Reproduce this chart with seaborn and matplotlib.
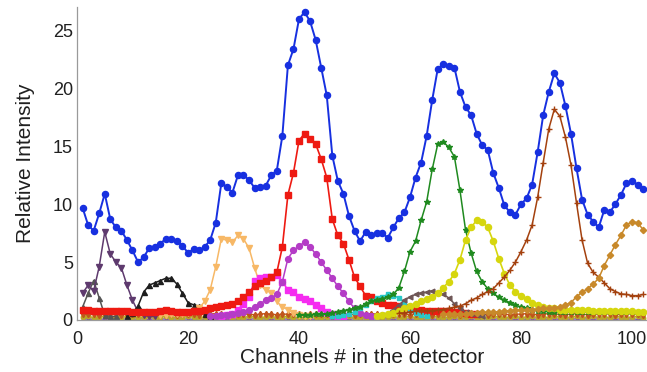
import matplotlib
matplotlib.use("Agg")
import matplotlib.pyplot as plt
import pandas as pd
import seaborn as sns

# ---------------------------------------------------------------- data
# Summed detector response, channels 1..102
total = [9.7, 8.2, 7.7, 9.2, 10.9, 8.7, 8.0, 7.7, 6.9, 6.0,
         5.0, 5.4, 6.2, 6.3, 6.6, 7.0, 7.0, 6.8, 6.4, 5.8,
         6.1, 6.0, 6.3, 6.9, 8.4, 11.8, 11.5, 11.0, 12.5, 12.5,
         12.1, 11.4, 11.5, 11.6, 12.5, 12.9, 15.9, 22.0, 23.4, 26.0,
         26.6, 25.8, 24.2, 21.8, 19.4, 14.2, 12.0, 10.9, 9.0, 7.7,
         6.8, 7.6, 7.3, 7.5, 7.5, 7.1, 8.0, 8.8, 9.3, 10.6,
         12.3, 13.6, 15.9, 19.0, 21.7, 22.1, 21.9, 21.8, 19.7, 18.4,
         17.7, 16.1, 15.1, 14.7, 12.7, 11.4, 9.9, 9.3, 9.1, 10.0,
         10.5, 11.7, 14.5, 17.7, 19.7, 21.3, 20.5, 18.5, 16.1, 13.1,
         10.4, 9.1, 8.5, 8.0, 9.5, 9.3, 10.0, 10.8, 11.8, 12.0,
         11.7, 11.3]

# Individual components: first channel + consecutive values
purple_start = 1
purple = [2.3, 3.0, 2.5, 4.6, 7.6, 5.7, 5.0, 4.5, 3.0, 1.7, 0.7, 0.4, 0.3, 0.3]

gray_start = 1
gray = [1.1, 2.3, 3.4, 1.9, 0.4, 0.3, 0.3]

black_start = 9
black = [0.3, 0.6, 1.2, 2.4, 3.0, 3.2, 3.4, 3.6, 3.6, 3.1, 2.3, 1.5, 1.3, 1.2, 0.5, 0.3]

orange_start = 15
orange = [0.4, 0.4, 0.5, 0.5, 0.5, 0.6, 0.8, 1.0, 1.6, 2.6,
          4.6, 7.0, 6.9, 6.7, 7.3, 7.0, 6.2, 4.5, 3.0, 2.6,
          2.3, 1.6, 1.1, 0.9, 0.6, 0.4, 0.3, 0.3]

magenta_start = 26
magenta = [0.3, 0.4, 0.5, 0.9, 1.4, 2.0, 3.4, 3.6, 3.7, 3.7,
           3.9, 3.3, 2.6, 2.4, 2.0, 1.8, 1.6, 1.3, 1.0, 0.7,
           0.5, 0.3, 0.3]

red_start = 1
red = [0.9, 0.9, 0.8, 0.8, 0.8, 0.8, 0.8, 0.8, 0.8, 0.7,
       0.7, 0.7, 0.7, 0.7, 0.8, 0.9, 0.8, 0.7, 0.7, 0.7,
       0.8, 0.8, 0.9, 1.0, 1.1, 1.2, 1.3, 1.4, 1.6, 2.0,
       2.4, 2.9, 3.2, 3.4, 3.7, 4.1, 6.3, 10.8, 12.7, 15.5,
       16.1, 15.6, 15.2, 13.9, 12.3, 8.7, 7.3, 6.6, 5.2, 3.7,
       2.9, 2.1, 2.0, 1.6, 1.5, 1.3, 1.3, 1.2, 1.1, 1.0,
       0.9, 0.9, 0.8, 0.8, 0.8, 0.8, 0.8, 0.7, 0.7, 0.6,
       0.5, 0.5]

violet_start = 24
violet = [0.3, 0.3, 0.4, 0.4, 0.5, 0.6, 0.7, 0.9, 1.1, 1.4,
          1.7, 1.9, 2.2, 3.3, 5.3, 6.0, 6.4, 6.7, 6.3, 5.7,
          5.0, 4.3, 3.6, 2.9, 2.3, 1.6, 1.0, 0.6, 0.4, 0.3]

cyan_start = 46
cyan = [0.3, 0.3, 0.4, 0.5, 0.7, 1.0, 1.3, 1.6, 1.9, 2.0,
        2.2, 2.1, 1.9, 1.5, 0.9, 0.6, 0.4, 0.3]

green_start = 40
green = [0.4, 0.4, 0.4, 0.5, 0.5, 0.5, 0.6, 0.7, 0.8, 0.9,
         1.0, 1.1, 1.4, 1.6, 1.7, 1.8, 2.0, 2.2, 2.8, 4.2,
         5.9, 6.8, 8.6, 10.2, 13.0, 15.2, 15.4, 14.9, 14.1, 11.2,
         7.8, 5.8, 4.2, 3.3, 2.7, 2.3, 1.95, 1.7, 1.5, 1.3,
         1.1, 1.0, 0.9, 0.8, 0.8, 0.7, 0.7, 0.7, 0.7, 0.7,
         0.7, 0.7, 0.7, 0.7, 0.7, 0.7, 0.7, 0.7, 0.7, 0.7,
         0.7, 0.7, 0.7]

taupe_start = 54
taupe = [0.3, 0.4, 0.6, 0.9, 1.3, 1.7, 2.0, 2.2, 2.3, 2.4,
         2.5, 2.4, 2.2, 1.9, 1.4, 1.0, 0.7, 0.5, 0.4, 0.3]

yellow_start = 54
yellow = [0.3, 0.4, 0.5, 0.6, 0.8, 1.0, 1.2, 1.4, 1.6, 1.8,
          2.0, 2.3, 2.8, 3.3, 4.0, 5.2, 6.9, 8.0, 8.6, 8.5,
          8.0, 6.8, 5.3, 4.0, 3.0, 2.45, 2.1, 1.8, 1.5, 1.3,
          1.1, 1.0, 1.0, 0.9, 0.9, 0.9, 0.9, 0.85, 0.85, 0.8,
          0.8, 0.8, 0.8, 0.8, 0.75, 0.75, 0.75, 0.7, 0.7]

brown_start = 58
brown = [0.6, 0.6, 0.7, 0.75, 0.8, 0.8, 0.8, 0.85, 0.9, 1.0,
         1.1, 1.2, 1.4, 1.7, 1.9, 2.2, 2.45, 2.7, 3.2, 3.7,
         4.3, 5.0, 5.9, 6.9, 8.2, 10.6, 13.6, 16.5, 18.2, 17.6,
         15.8, 13.4, 10.1, 6.9, 4.9, 4.1, 3.7, 3.2, 2.7, 2.45,
         2.25, 2.2, 2.1, 2.1, 2.2]

gold_start = 66
gold = [0.5, 0.5, 0.5, 0.5, 0.55, 0.6, 0.6, 0.65, 0.65, 0.7,
        0.7, 0.75, 0.8, 0.85, 0.85, 0.9, 0.9, 0.95, 1.0, 1.0,
        1.05, 1.15, 1.3, 1.5, 2.0, 2.4, 2.7, 3.1, 3.6, 4.7,
        5.6, 6.5, 7.3, 8.2, 8.5, 8.4, 7.8]

# Low-level channels lying along the floor of the plot (channels 1..102)
floor_olive = [0.25, 0.3, 0.2, 0.25, 0.3, 0.2, 0.25, 0.2, 0.3, 0.25,
               0.2, 0.25, 0.3, 0.2, 0.25, 0.3, 0.2, 0.25, 0.2, 0.3,
               0.25, 0.2, 0.25, 0.3, 0.2, 0.25, 0.3, 0.2, 0.25, 0.2,
               0.3, 0.25, 0.2, 0.25, 0.3, 0.2, 0.25, 0.3, 0.2, 0.25,
               0.2, 0.3, 0.25, 0.2, 0.25, 0.3, 0.2, 0.25, 0.3, 0.2,
               0.25, 0.2, 0.3, 0.25, 0.2, 0.25, 0.3, 0.2, 0.25, 0.3,
               0.2, 0.25, 0.2, 0.3, 0.25, 0.2, 0.25, 0.3, 0.2, 0.25,
               0.3, 0.2, 0.25, 0.2, 0.3, 0.25, 0.2, 0.25, 0.3, 0.2,
               0.25, 0.3, 0.2, 0.25, 0.2, 0.3, 0.25, 0.2, 0.25, 0.3,
               0.2, 0.25, 0.3, 0.2, 0.25, 0.2, 0.3, 0.25, 0.2, 0.25,
               0.3, 0.2]
floor_rust = [0.5, 0.55, 0.5, 0.45, 0.5, 0.55, 0.5, 0.45, 0.5, 0.5,
              0.55, 0.5, 0.45, 0.5, 0.55, 0.5, 0.5, 0.45, 0.5, 0.55,
              0.5, 0.45, 0.5, 0.5, 0.55, 0.5, 0.45, 0.5, 0.55, 0.5,
              0.5, 0.45, 0.5, 0.55, 0.5, 0.45, 0.5, 0.5, 0.55, 0.5,
              0.45, 0.5, 0.55, 0.5, 0.5, 0.45, 0.5, 0.55, 0.5, 0.45,
              0.5, 0.5, 0.55, 0.5, 0.45, 0.5, 0.55, 0.5, 0.5, 0.45,
              0.5, 0.55, 0.5, 0.45, 0.5, 0.5, 0.55, 0.5, 0.45, 0.5,
              0.55, 0.5, 0.5, 0.45, 0.5, 0.55, 0.5, 0.45, 0.5, 0.5,
              0.55, 0.5, 0.45, 0.5, 0.55, 0.5, 0.5, 0.45, 0.5, 0.55,
              0.5, 0.45, 0.5, 0.5, 0.55, 0.5, 0.45, 0.5, 0.55, 0.5,
              0.5, 0.45]
floor_indigo = [0.05, 0.1, 0.05, 0.1, 0.05, 0.1, 0.05, 0.1, 0.05, 0.1,
                0.05, 0.1, 0.05, 0.1, 0.05, 0.1, 0.05, 0.1, 0.05, 0.1,
                0.05, 0.1, 0.05, 0.1, 0.05, 0.1, 0.05, 0.1, 0.05, 0.1,
                0.05, 0.1, 0.05, 0.1, 0.05, 0.1, 0.05, 0.1, 0.05, 0.1,
                0.05, 0.1, 0.05, 0.1, 0.05, 0.1, 0.05, 0.1, 0.05, 0.1,
                0.05, 0.1, 0.05, 0.1, 0.05, 0.1, 0.05, 0.1, 0.05, 0.1,
                0.05, 0.1, 0.05, 0.1, 0.05, 0.1, 0.05, 0.1, 0.05, 0.1,
                0.05, 0.1, 0.05, 0.1, 0.05, 0.1, 0.05, 0.1, 0.05, 0.1,
                0.05, 0.1, 0.05, 0.1, 0.05, 0.1, 0.05, 0.1, 0.05, 0.1,
                0.05, 0.1, 0.05, 0.1, 0.05, 0.1, 0.05, 0.1, 0.05, 0.1,
                0.05, 0.1]

x_ticks = [0, 20, 40, 60, 80, 100]
y_ticks = [0, 5, 10, 15, 20, 25]

# ---------------------------------------------------------------- table
series = [
    ("floor_indigo", 1, floor_indigo),
    ("floor_olive", 1, floor_olive),
    ("floor_rust", 1, floor_rust),
    ("gray", gray_start, gray),
    ("purple", purple_start, purple),
    ("black", black_start, black),
    ("orange", orange_start, orange),
    ("magenta", magenta_start, magenta),
    ("red", red_start, red),
    ("violet", violet_start, violet),
    ("cyan", cyan_start, cyan),
    ("taupe", taupe_start, taupe),
    ("green", green_start, green),
    ("yellow", yellow_start, yellow),
    ("brown", brown_start, brown),
    ("gold", gold_start, gold),
    ("total", 1, total),
]
rows = []
for name, start, vals in series:
    for i, v in enumerate(vals):
        rows.append({"series": name, "channel": start + i, "intensity": v})
df = pd.DataFrame(rows)

styles = {
    "floor_indigo": dict(color="#7a3fb0", marker="^", ms=3.0, lw=1.0),
    "floor_olive": dict(color="#b9a626", marker="o", ms=3.2, lw=1.0),
    "floor_rust": dict(color="#c0561c", marker="d", ms=3.2, lw=1.0),
    "gray": dict(color="#555555", marker="^", ms=3.6, lw=1.1),
    "purple": dict(color="#5e3a6e", marker="v", ms=4.0, lw=1.1),
    "black": dict(color="#1e1e1e", marker="^", ms=3.6, lw=1.1),
    "orange": dict(color="#f7b866", marker="v", ms=4.0, lw=1.1),
    "magenta": dict(color="#f52cf0", marker="s", ms=3.8, lw=1.1),
    "red": dict(color="#ee1a12", marker="s", ms=4.0, lw=1.2),
    "violet": dict(color="#b43cc6", marker="o", ms=4.2, lw=1.1),
    "cyan": dict(color="#28c8c8", marker="s", ms=3.4, lw=1.1),
    "taupe": dict(color="#6e5656", marker="<", ms=3.4, lw=1.1),
    "green": dict(color="#1f8a1f", marker="*", ms=4.2, lw=1.1),
    "yellow": dict(color="#d6d60e", marker="o", ms=4.4, lw=1.2),
    "brown": dict(color="#a4410e", marker="+", ms=4.4, lw=1.1),
    "gold": dict(color="#c8892a", marker="D", ms=3.2, lw=1.1),
    "total": dict(color="#1730e0", marker="o", ms=4.4, lw=1.4),
}

# ---------------------------------------------------------------- figure
sns.set_theme(style="white")
plt.rcParams["font.family"] = ["Liberation Sans", "DejaVu Sans"]

fig = plt.figure(figsize=(6.47, 3.72), dpi=100)
ax = fig.add_axes([0.119, 0.140, 0.881, 0.840])

for name, _, _ in series:
    st = styles[name]
    sns.lineplot(
        data=df[df["series"] == name], x="channel", y="intensity",
        ax=ax, color=st["color"], marker=st["marker"], markersize=st["ms"],
        markeredgecolor=st["color"], markeredgewidth=1.0,
        linewidth=st["lw"], estimator=None, sort=False, legend=False,
    )

ax.set_xlim(0, 102.7)
ax.set_ylim(0, 27)
ax.set_xticks(x_ticks)
ax.set_yticks(y_ticks)
ax.tick_params(axis="both", direction="in", length=3, width=0.8,
               color="#8a8a8a", labelsize=13, labelcolor="#202020")
ax.tick_params(axis="x", pad=8)
ax.tick_params(axis="y", pad=3)

for side in ("top", "right"):
    ax.spines[side].set_visible(False)
for side in ("left", "bottom"):
    ax.spines[side].set_color("#9a9a9a")
    ax.spines[side].set_linewidth(0.9)

ax.set_xlabel("Channels # in the detector", fontsize=15, color="#202020", labelpad=0)
ax.set_ylabel("Relative Intensity", fontsize=15, color="#202020", labelpad=13)

fig.savefig("out.png", dpi=100)
